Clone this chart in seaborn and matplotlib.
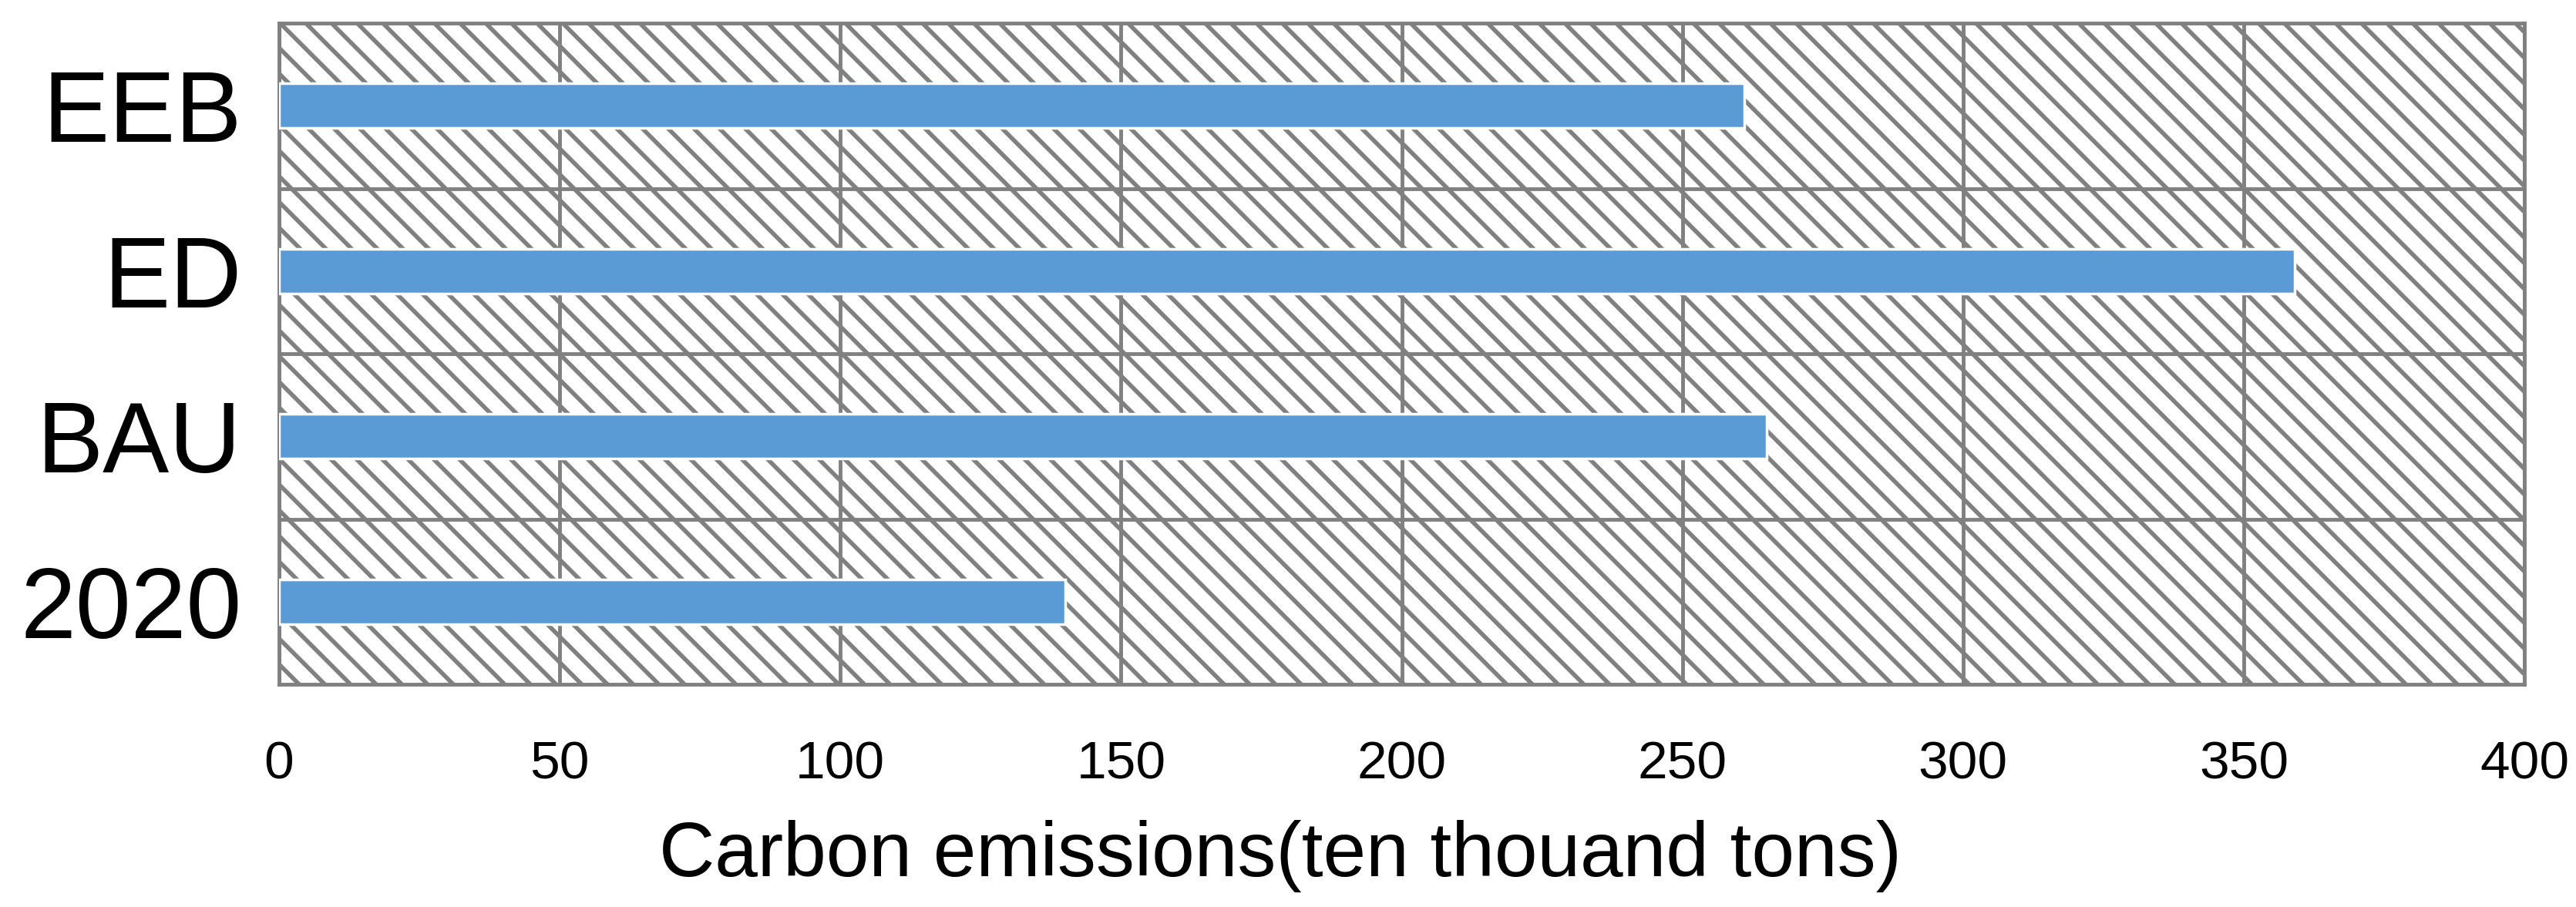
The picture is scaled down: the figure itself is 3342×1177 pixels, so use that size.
import matplotlib
matplotlib.use("Agg")
import matplotlib.pyplot as plt
import matplotlib.patches as mpatches
import seaborn as sns
import pandas as pd

# Data
scenarios = ["EEB", "ED", "BAU", "2020"]
emissions = [261, 359, 265, 140]
x_ticks = [0, 50, 100, 150, 200, 250, 300, 350, 400]

df = pd.DataFrame({"scenario": scenarios, "emissions": emissions})

sns.set_style("white")
plt.rcParams["font.family"] = ["Liberation Sans", "DejaVu Sans"]
plt.rcParams["hatch.color"] = "#808080"
plt.rcParams["hatch.linewidth"] = 4.0
for k in ["text.color", "axes.labelcolor", "xtick.color", "ytick.color"]:
    plt.rcParams[k] = "black"

grid_col = "#808080"

fig = plt.figure(figsize=(33.42, 11.77), dpi=100)
ax = fig.add_axes([0.1083, 0.2455, 0.8717, 0.729])

# hatched background of the plot area
bg = mpatches.Rectangle((0, 0), 1, 1, transform=ax.transAxes, facecolor="white",
                        edgecolor=grid_col, hatch="\\", linewidth=0, zorder=0.2)
ax.add_patch(bg)

sns.barplot(data=df, x="emissions", y="scenario", orient="h", color="#5B9BD5",
            saturation=1, width=0.27, edgecolor="white", linewidth=2.5, ax=ax, zorder=3)

ax.set_xlim(0, 400)
ax.set_ylim(3.5, -0.5)
ax.set_xticks(x_ticks)
ax.set_xticklabels([str(t) for t in x_ticks], fontsize=50)
ax.set_yticks(range(len(scenarios)))
ax.set_yticklabels(scenarios, fontsize=93)
ax.set_yticks([0.5, 1.5, 2.5], minor=True)

ax.set_axisbelow(True)
ax.grid(axis="x", which="major", color=grid_col, linewidth=3.5)
ax.grid(axis="y", which="minor", color=grid_col, linewidth=3.5)
ax.grid(axis="y", which="major", visible=False)

ax.tick_params(axis="both", which="both", length=0)
ax.tick_params(axis="x", pad=52)
ax.tick_params(axis="y", pad=35)

for s in ax.spines.values():
    s.set_visible(True)
    s.set_color(grid_col)
    s.set_linewidth(3.5)

ax.set_ylabel("")
ax.set_xlabel("Carbon emissions(ten thouand tons)", fontsize=72)
ax.xaxis.set_label_coords(0.446, -0.205)

fig.savefig("out.png", dpi=100)
